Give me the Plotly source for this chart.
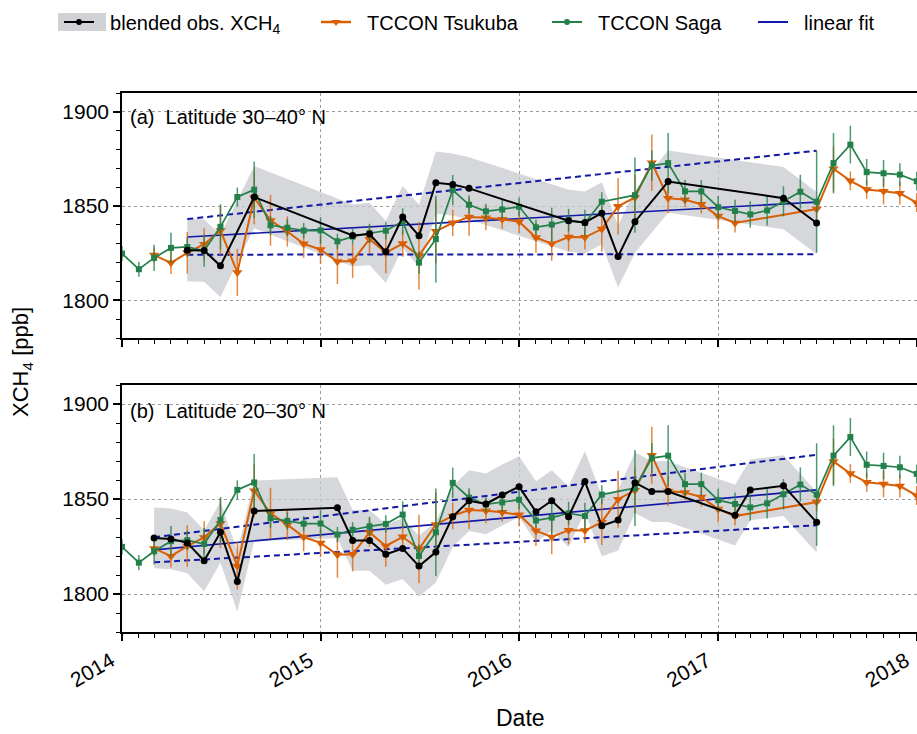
import numpy as np
import pandas as pd
import plotly.graph_objects as go

# ---------------- data ----------------
saga_months = ["2014-01","2014-02","2014-03","2014-04","2014-05","2014-06","2014-07","2014-08","2014-09","2014-10","2014-11","2014-12",
               "2015-01","2015-02","2015-03","2015-04","2015-05","2015-06","2015-07","2015-08","2015-09","2015-10","2015-11","2015-12",
               "2016-01","2016-02","2016-03","2016-04","2016-05","2016-06","2016-08","2016-09","2016-10","2016-11","2016-12",
               "2017-01","2017-02","2017-03","2017-04","2017-05","2017-06","2017-07","2017-08","2017-09","2017-10","2017-11","2017-12",
               "2018-01"]
saga_xch4 = [1824.8,1816.5,1822.5,1827.8,1828.3,1826.3,1839.0,1854.8,1858.7,1839.8,1838.5,1837.0,
             1837.1,1831.3,1833.8,1835.6,1836.9,1841.8,1820.0,1832.5,1858.5,1850.7,1847.2,1848.2,
             1849.6,1838.7,1840.2,1842.5,1841.0,1852.3,1855.8,1871.5,1872.8,1857.8,1857.8,
             1849.4,1847.4,1845.6,1847.7,1852.5,1857.6,1852.3,1872.8,1882.6,1868.0,1867.4,1866.7,
             1863.2]
saga_err = [4,4,7,8,5,8.5,12,5,15,5,4.5,4,
            7,4,4,5,4.5,7,6,23,8,5,4,5,
            5,4,9,6,7,5,20,8,16,6,6,
            6,6,7,8,8,9,27,16,10,7,7,6,
            5]

tsukuba_months = ["2014-03","2014-04","2014-05","2014-06","2014-07","2014-08","2014-09","2014-10","2014-11","2014-12",
                  "2015-01","2015-02","2015-03","2015-04","2015-05","2015-06","2015-07","2015-08","2015-09","2015-10","2015-11","2015-12",
                  "2016-01","2016-02","2016-03","2016-04","2016-05","2016-06","2016-07","2016-08","2016-09","2016-10","2016-11","2016-12",
                  "2017-01","2017-02","2017-07","2017-08","2017-09","2017-10","2017-11","2017-12","2018-01"]
tsukuba_xch4 = [1824.0,1819.9,1825.2,1829.8,1837.1,1814.8,1854.4,1842.4,1836.5,1830.0,
                1826.9,1820.6,1820.9,1832.4,1825.3,1830.1,1823.7,1836.6,1841.1,1844.2,1843.8,1843.0,
                1841.7,1833.3,1830.0,1833.6,1833.4,1837.8,1849.9,1854.6,1873.0,1854.2,1853.4,1851.0,
                1844.7,1841.0,1848.4,1869.8,1863.4,1858.8,1857.9,1856.8,1851.8]
tsukuba_err = [4,6,11,8.5,13,12.5,14,13.5,8,7.5,
               7.5,12,9,7.5,11,7,18,17,7,10,6.5,5,
               6,8,9,7.5,6.5,12,15,12,15,8,4,5,
               7,5,5,12,5,5,7,6,5]

blend_a_months = ["2014-05","2014-06","2014-07","2014-09","2015-03","2015-04","2015-05","2015-06","2015-07","2015-08",
                  "2015-09","2015-10","2016-04","2016-05","2016-06","2016-07","2016-08","2016-10","2017-05","2017-07"]
blend_a_xch4 = [1826.6,1826.4,1818.3,1854.8,1834.4,1835.2,1825.7,1844.2,1834.2,1862.4,
                1861.4,1859.4,1842.2,1841.3,1846.2,1823.3,1841.7,1863.0,1854.2,1841.0]
blend_a_unc = 16.5

blend_b_months = ["2014-03","2014-04","2014-05","2014-06","2014-07","2014-08","2014-09","2015-02","2015-03","2015-04",
                  "2015-05","2015-06","2015-07","2015-08","2015-09","2015-10","2015-11","2015-12","2016-01","2016-02",
                  "2016-03","2016-04","2016-05","2016-06","2016-07","2016-08","2016-09","2016-10","2017-02","2017-03",
                  "2017-05","2017-07"]
blend_b_xch4 = [1829.5,1829.0,1826.9,1817.5,1832.5,1806.6,1843.7,1845.4,1828.2,1828.2,
                1820.9,1823.9,1814.7,1822.1,1840.7,1849.1,1847.4,1852.1,1856.5,1843.3,
                1849.1,1840.7,1859.2,1835.9,1838.9,1858.6,1853.9,1853.9,1841.5,1854.8,
                1857.0,1837.7]
blend_b_unc = 16.0

fit_a_months = ["2014-05", "2017-07"]
fit_a_mid = [1833.6, 1852.1]
fit_a_hi = [1843.1, 1879.4]
fit_a_lo = [1824.2, 1824.5]

fit_b_months = ["2014-03", "2017-07"]
fit_b_mid = [1823.2, 1854.8]
fit_b_hi = [1829.9, 1873.3]
fit_b_lo = [1816.7, 1836.2]

panel_labels = ["(a)  Latitude 30–40° N", "(b)  Latitude 20–30° N"]
legend_names = ["blended obs. XCH<sub>4</sub>", "TCCON Tsukuba", "TCCON Saga", "linear fit"]
year_ticks = ["2014-01-01", "2015-01-01", "2016-01-01", "2017-01-01", "2018-01-01"]
year_labels = ["2014", "2015", "2016", "2017", "2018"]
y_ticks = [1800, 1850, 1900]

# ---------------- style ----------------
FONT = "Liberation Sans, Arial, sans-serif"
C_BLACK = "#000000"
C_ORANGE = "#d95f02"
C_GREEN = "#23804a"
C_BLUE = "#1018a8"
C_BAND = "rgba(200,202,207,0.75)"
W, H = 917, 734
PAD = "\u00a0\u00a0"  # gap between legend symbol and text


def d(months):
    return pd.to_datetime([m + "-01" for m in months])


fig = go.Figure()

panels = [
    dict(xa="x", ya="y", bm=blend_a_months, bv=blend_a_xch4, bu=blend_a_unc,
         fm=fit_a_months, fmid=fit_a_mid, fhi=fit_a_hi, flo=fit_a_lo),
    dict(xa="x2", ya="y2", bm=blend_b_months, bv=blend_b_xch4, bu=blend_b_unc,
         fm=fit_b_months, fmid=fit_b_mid, fhi=fit_b_hi, flo=fit_b_lo),
]

for p in panels:
    bx = d(p["bm"])
    bv = np.array(p["bv"])
    upper = bv + p["bu"]
    lower = bv - p["bu"]
    fig.add_trace(go.Scatter(x=list(bx) + list(bx[::-1]), y=list(upper) + list(lower[::-1]),
                             fill="toself", fillcolor=C_BAND, line=dict(width=0), mode="lines",
                             hoverinfo="skip", showlegend=False, xaxis=p["xa"], yaxis=p["ya"]))
    fx = d(p["fm"])
    fig.add_trace(go.Scatter(x=fx, y=p["fmid"], mode="lines", line=dict(color=C_BLUE, width=1.6),
                             showlegend=False, xaxis=p["xa"], yaxis=p["ya"]))
    for yy in (p["fhi"], p["flo"]):
        fig.add_trace(go.Scatter(x=fx, y=yy, mode="lines", line=dict(color=C_BLUE, width=2, dash="6px,4px"),
                                 showlegend=False, xaxis=p["xa"], yaxis=p["ya"]))
    fig.add_trace(go.Scatter(x=d(tsukuba_months), y=tsukuba_xch4, mode="lines+markers",
                             line=dict(color=C_ORANGE, width=2),
                             marker=dict(symbol="triangle-down", size=9, color=C_ORANGE),
                             error_y=dict(type="data", array=tsukuba_err, color="rgba(217,95,2,0.75)",
                                          thickness=1.5, width=0),
                             showlegend=False, xaxis=p["xa"], yaxis=p["ya"]))
    fig.add_trace(go.Scatter(x=d(saga_months), y=saga_xch4, mode="lines+markers",
                             line=dict(color=C_GREEN, width=1.7),
                             marker=dict(symbol="square", size=6, color=C_GREEN),
                             error_y=dict(type="data", array=saga_err, color="rgba(35,128,74,0.8)",
                                          thickness=1.5, width=0),
                             showlegend=False, xaxis=p["xa"], yaxis=p["ya"]))
    fig.add_trace(go.Scatter(x=bx, y=bv, mode="lines+markers", line=dict(color=C_BLACK, width=2),
                             marker=dict(symbol="circle", size=7, color=C_BLACK),
                             showlegend=False, xaxis=p["xa"], yaxis=p["ya"]))

# legend entries, each in its own legend so they can be spaced like the reference
fig.add_trace(go.Scatter(x=[None], y=[None], mode="lines+markers",
                         line=dict(color=C_BLACK, width=2), marker=dict(size=6, color=C_BLACK),
                         name=PAD + legend_names[0], legend="legend"))
fig.add_trace(go.Scatter(x=[None], y=[None], mode="lines+markers", line=dict(color=C_ORANGE, width=2.5),
                         marker=dict(symbol="triangle-down", size=8, color=C_ORANGE),
                         error_y=dict(type="data", array=[1], color=C_ORANGE, width=0),
                         name=PAD + legend_names[1], legend="legend2"))
fig.add_trace(go.Scatter(x=[None], y=[None], mode="lines+markers", line=dict(color=C_GREEN, width=2),
                         marker=dict(symbol="circle", size=6, color=C_GREEN),
                         name=PAD + legend_names[2], legend="legend3"))
fig.add_trace(go.Scatter(x=[None], y=[None], mode="lines", line=dict(color=C_BLUE, width=2),
                         name=PAD + legend_names[3], legend="legend4"))

xdom = [122 / W, 1.0]
ydom_a = [1 - 338 / H, 1 - 93 / H]
ydom_b = [1 - 632 / H, 1 - 385 / H]

TICKFONT = dict(family=FONT, size=21, color="black")
xcommon = dict(type="date", range=["2014-01-01", "2018-01-01 12:00"], tickvals=year_ticks,
               showline=True, linecolor="black", linewidth=1.5, mirror=True,
               ticks="outside", ticklen=7, tickwidth=1.5, tickcolor="black",
               showgrid=True, gridcolor="#9a9a9a", griddash="dot", gridwidth=1,
               minor=dict(dtick="M1", ticks="outside", ticklen=4, tickwidth=1, tickcolor="black", showgrid=False),
               zeroline=False, automargin=False, domain=xdom, tickfont=TICKFONT,
               ticklabeloverflow="allow")
ycommon = dict(range=[1780, 1910], tickvals=y_ticks,
               showline=True, linecolor="black", linewidth=1.5, mirror=False,
               ticks="outside", ticklen=7, tickwidth=1.5, tickcolor="black",
               showgrid=True, gridcolor="#9a9a9a", griddash="dot", gridwidth=1,
               minor=dict(dtick=10, ticks="outside", ticklen=4, tickwidth=1, tickcolor="black", showgrid=False),
               zeroline=False, automargin=False, tickfont=TICKFONT)

LEGFONT = dict(family=FONT, size=20, color="black")
leg_x_px = [59, 316, 547, 753]
leg_common = dict(orientation="h", y=1 - 22 / H, xanchor="left", yanchor="middle",
                  font=LEGFONT, bgcolor="rgba(0,0,0,0)", borderwidth=0)

fig.update_layout(
    width=W, height=H, margin=dict(l=0, r=0, t=0, b=0),
    plot_bgcolor="white", paper_bgcolor="white",
    font=dict(family=FONT, size=20, color="black"),
    xaxis=dict(xcommon, anchor="y", showticklabels=False),
    yaxis=dict(ycommon, anchor="x", domain=ydom_a),
    xaxis2=dict(xcommon, anchor="y2", ticktext=year_labels, tickangle=-30, ticklabelshift=-11),
    yaxis2=dict(ycommon, anchor="x2", domain=ydom_b),
    legend=dict(leg_common, x=leg_x_px[0] / W),
    legend2=dict(leg_common, x=leg_x_px[1] / W),
    legend3=dict(leg_common, x=leg_x_px[2] / W),
    legend4=dict(leg_common, x=leg_x_px[3] / W),
    showlegend=True,
)

# grey swatch behind the "blended obs." legend symbol
fig.add_shape(type="rect", xref="paper", yref="paper", layer="below",
              x0=(leg_x_px[0] - 1) / W, x1=(leg_x_px[0] + 47) / W, y0=1 - 31 / H, y1=1 - 13 / H,
              fillcolor="rgba(200,202,207,0.85)", line=dict(width=0))

fig.add_annotation(text=panel_labels[0], xref="paper", yref="paper", x=128 / W, y=1 - 117 / H,
                   xanchor="left", yanchor="middle", showarrow=False, font=dict(family=FONT, size=20))
fig.add_annotation(text=panel_labels[1], xref="paper", yref="paper", x=128 / W, y=1 - 411 / H,
                   xanchor="left", yanchor="middle", showarrow=False, font=dict(family=FONT, size=20))
fig.add_annotation(text="XCH<sub>4</sub> [ppb]", xref="paper", yref="paper", x=22 / W, y=1 - 362 / H,
                   textangle=-90, xanchor="center", yanchor="middle", showarrow=False,
                   font=dict(family=FONT, size=22))
fig.add_annotation(text="Date", xref="paper", yref="paper", x=520 / W, y=1 - 718 / H,
                   xanchor="center", yanchor="middle", showarrow=False, font=dict(family=FONT, size=23))

fig.write_html("out.html")
